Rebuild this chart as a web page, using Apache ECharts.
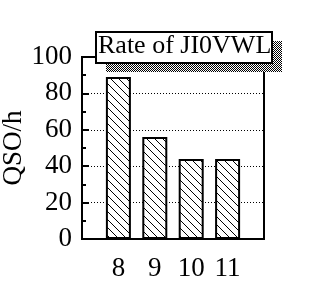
<!DOCTYPE html>
<html><head><meta charset="utf-8">
<script src="https://cdn.jsdelivr.net/npm/echarts@6/dist/echarts.min.js"></script>
<style>html,body{margin:0;padding:0;background:#fff}#c{width:322px;height:296px}</style>
</head><body><div id="c"></div>
<script>
var categories = [8, 9, 10, 11];
var rates = [89, 56, 44, 44];
var yTicks = [0, 20, 40, 60, 80, 100];
var titleText = 'Rate of JI0VWL';
var yName = 'QSO/h';

function hatch() {
  var n = 8;
  var c = document.createElement('canvas'); c.width = n; c.height = n;
  var g = c.getContext('2d'); g.fillStyle = '#fff'; g.fillRect(0,0,n,n);
  g.fillStyle = '#000';
  for (var i = 0; i < n; i++) g.fillRect(i, i, 1, 1);
  return c;
}
function checker() {
  var c = document.createElement('canvas'); c.width = 2; c.height = 2;
  var g = c.getContext('2d'); g.fillStyle = '#fff'; g.fillRect(0,0,2,2);
  g.fillStyle = '#000'; g.fillRect(0,0,1,1); g.fillRect(1,1,1,1);
  return c;
}
var font = 'Liberation Serif';
var chart = echarts.init(document.getElementById('c'), null, {renderer: 'canvas'});
chart.setOption({
  animation: false,
  backgroundColor: '#fff',
  grid: {left: 82, right: 58, top: 57, bottom: 57, show: true, borderColor: '#000', borderWidth: 2,
    backgroundColor: 'transparent', containLabel: false, outerBoundsMode: 'none'},
  xAxis: {
    type: 'value', min: 7, max: 12, interval: 1,
    axisLine: {lineStyle: {color: '#000', width: 2}},
    axisTick: {show: false}, splitLine: {show: false},
    axisLabel: {color: '#000', fontFamily: font, fontSize: 27, margin: 16,
      formatter: function (v) { return categories.indexOf(v) >= 0 ? String(v) : ''; }}
  },
  yAxis: {
    type: 'value', min: yTicks[0], max: yTicks[yTicks.length - 1], interval: 20,
    name: yName, nameLocation: 'middle', nameGap: 55, nameRotate: 90, nameMoveOverlap: false,
    nameTextStyle: {color: '#000', fontFamily: font, fontSize: 27},
    axisLine: {show: true, lineStyle: {color: '#000', width: 2}},
    axisTick: {show: true, inside: true, length: 7, lineStyle: {color: '#000', width: 2}},
    minorTick: {show: true, splitNumber: 2, length: 4, lineStyle: {color: '#000', width: 2}},
    splitLine: {show: true, lineStyle: {color: '#000', width: 1, type: [1, 2]}},
    axisLabel: {color: '#000', fontFamily: font, fontSize: 27, margin: 10}
  },
  series: [{
    type: 'bar', barWidth: 25,
    data: categories.map(function (c, i) { return [c, rates[i]]; }),
    itemStyle: {color: {image: hatch(), repeat: 'repeat'}, borderColor: '#000', borderWidth: 2}
  }],
  graphic: [
    {type: 'rect', shape: {x: 106, y: 41, width: 176, height: 31}, style: {fill: {image: checker(), repeat: 'repeat'}}, z: 100},
    {type: 'rect', shape: {x: 96, y: 32, width: 176, height: 31}, style: {fill: '#fff', stroke: '#000', lineWidth: 2}, z: 101},
    {type: 'text', left: 98, top: 33, style: {text: titleText, font: '26px "Liberation Serif"', fill: '#000'}, z: 102}
  ]
});
</script></body></html>
